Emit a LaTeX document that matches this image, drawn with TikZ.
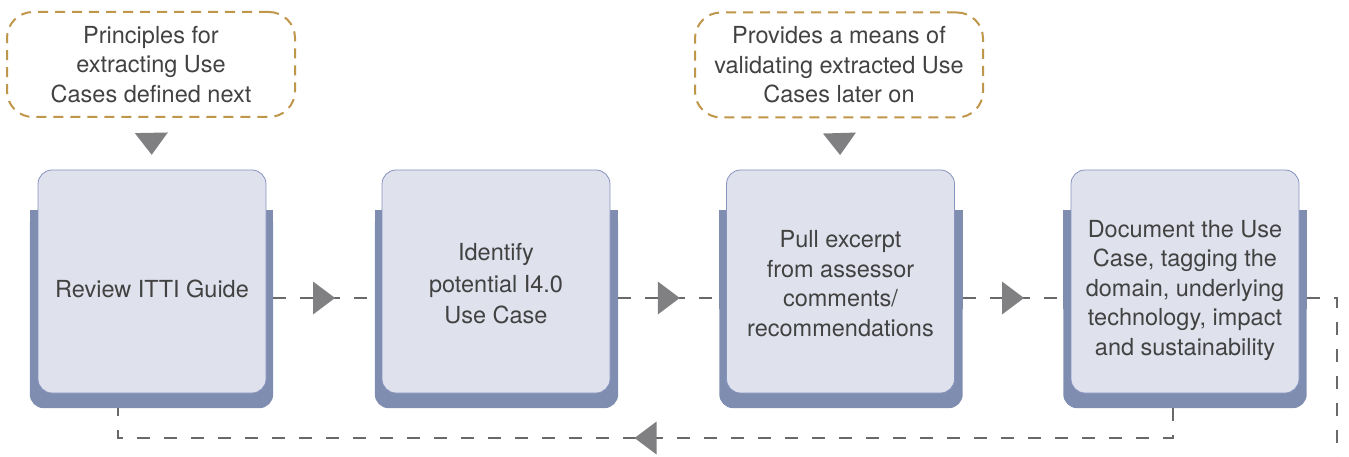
\documentclass[tikz,border=0pt]{standalone}
\usepackage{fontspec}
\setmainfont{TeX Gyre Heros}
\usetikzlibrary{calc,decorations.markings}
\definecolor{backc}{RGB}{127,141,177}
\definecolor{frontc}{RGB}{223,225,237}
\definecolor{frontb}{RGB}{135,148,190}
\definecolor{linec}{RGB}{105,105,105}
\definecolor{tric}{RGB}{128,128,130}
\definecolor{goldc}{RGB}{192,150,74}
\definecolor{txtc}{RGB}{66,66,66}
\newcommand{\topgap}[1]{\rule{0pt}{#1}}
\tikzset{
  backbox/.style={minimum width=243pt, minimum height=198pt, inner sep=0pt},
  stepbox/.style={draw=frontb, line width=0.8pt, fill=frontc, rounded corners=14pt,
    minimum width=228pt, minimum height=223pt, inner sep=0pt, align=center,
    text=txtc, font=\fontsize{23.5}{29.5}\selectfont},
  callout/.style={draw=goldc, line width=2pt, dash pattern=on 10pt off 7pt,
    rounded corners=26pt, minimum width=288pt, minimum height=105pt, inner sep=0pt,
    align=center, text=txtc, font=\fontsize{23.5}{29.5}\selectfont},
  conn/.style={draw=linec, line width=2.6pt, dash pattern=on 13pt off 14pt},
  midtri/.style={postaction={decorate}, decoration={markings,
    mark=at position 0.5 with {\fill[tric] (-11pt,-16.5pt) -- (11pt,0pt) -- (-11pt,16.5pt) -- cycle;}}}
}
\begin{document}
\begin{tikzpicture}[x=1pt,y=-1pt]
\useasboundingbox (0,0) rectangle (1349,457);
% back plates
\foreach \n/\x in {b1/151.5, b2/496.5, b3/841, b4/1185}{
  \node[backbox] (\n) at (\x,309) {};
  \fill[backc, rounded corners=14pt] (\n.north west) rectangle (\n.south east);
  \fill[backc] (\n.north west) rectangle (\n.east);
}
% connectors
\coordinate (m) at (0,298);
\draw[conn, midtri] (b1.east |- m) -- (b2.west |- m);
\draw[conn, midtri] (b2.east |- m) -- (b3.west |- m);
\draw[conn, midtri] (b3.east |- m) -- (b4.west |- m);
\coordinate (r1) at (1337,298);
\coordinate (rend) at (1337,462);
\draw[conn] (b4.east |- m) -- (r1) -- (rend);
\coordinate (d1) at (1173,438);
\coordinate (d2) at (118,438);
\draw[conn, midtri] (b4.south -| d1) -- (d1) -- (d2) -- (b1.south -| d2);
% front boxes
\node[stepbox] (s1) at (152,281.5) {\topgap{33pt}Review ITTI Guide};
\node[stepbox] (s2) at (496,281.5) {\topgap{22pt}Identify\\[2pt]potential I4.0\\[2pt]Use Case};
\node[stepbox] (s3) at (840.5,281.5) {\topgap{21pt}Pull excerpt\\from assessor\\comments/\\recommendations};
\node[stepbox] (s4) at (1185,281.5) {\topgap{35pt}Document the Use\\Case, tagging the\\domain, underlying\\technology, impact\\and sustainability};
% callouts
\node[callout] (c1) at (151,64.5) {Principles for\\extracting Use\\Cases defined next};
\node[callout] (c2) at (839,65) {Provides a means of\\validating extracted Use\\Cases later on};
\path[midtri] (c1.south) -- (s1.north);
\path[midtri] (c2.south) -- (s3.north);
\end{tikzpicture}
\end{document}
